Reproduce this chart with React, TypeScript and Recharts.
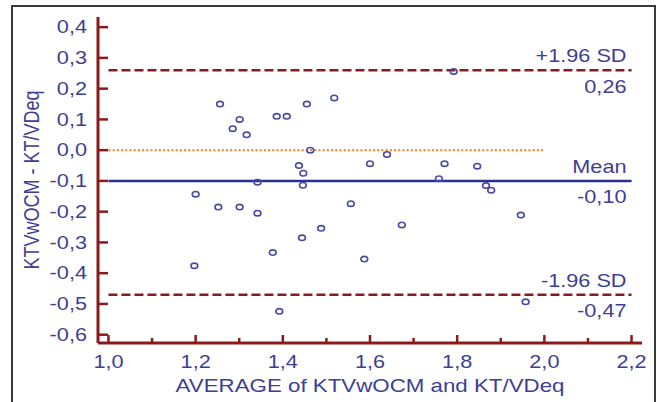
import { ScatterChart, Scatter, XAxis, YAxis, ReferenceLine } from "recharts";

// Bland-Altman: KTVwOCM vs KT/VDeq
const avgValues = [
  1.256, 1.301, 1.285, 1.317, 1.386, 1.409, 1.455, 1.518, 1.463, 1.437, 1.447, 1.446,
  1.342, 1.792, 1.6, 1.639, 1.771, 1.846, 1.758, 1.866, 1.878, 1.946, 1.2, 1.252,
  1.301, 1.342, 1.488, 1.444, 1.377, 1.197, 1.392, 1.556, 1.673, 1.587, 1.957,
];
const diffValues = [
  0.15, 0.1, 0.07, 0.05, 0.11, 0.11, 0.15, 0.17, 0.0, -0.05, -0.075, -0.114,
  -0.104, 0.256, -0.044, -0.014, -0.044, -0.052, -0.093, -0.115, -0.13, -0.211, -0.143, -0.185,
  -0.185, -0.205, -0.254, -0.285, -0.333, -0.376, -0.524, -0.174, -0.243, -0.354, -0.493,
];

const xTicks = [1.0, 1.1, 1.2, 1.3, 1.4, 1.5, 1.6, 1.7, 1.8, 1.9, 2.0, 2.1, 2.2];
const yTicks = [
  -0.6, -0.55, -0.5, -0.45, -0.4, -0.35, -0.3, -0.25, -0.2, -0.15, -0.1, -0.05,
  0.0, 0.05, 0.1, 0.15, 0.2, 0.25, 0.3, 0.35, 0.4,
];

const upperLimit = 0.26;
const meanDiff = -0.1;
const lowerLimit = -0.47;
const upperLabel = "+1.96 SD";
const meanLabel = "Mean";
const lowerLabel = "-1.96 SD";

const data = avgValues.map((x, i) => ({ x, y: diffValues[i] }));

const AXIS = "#8b1a1a";
const TEXT = "#3e3e94";
const FONT = "'Liberation Sans', Arial, sans-serif";
const STRETCH = 1.24;
const PLOT_LEFT = 98;
const PLOT_BOTTOM = 343;

const fmt = (v: number, d = 1) => v.toFixed(d).replace(".", ",");
// y: labelled every 0.1, x: labelled every 0.2
const yMajor = (v: number) => Math.round(Math.abs(v) * 100) % 10 === 0;
const xMajor = (v: number) => Math.round(v * 10) % 2 === 0;

function YTick(props: any) {
  const { y, payload } = props;
  const v = payload.value as number;
  const major = yMajor(v);
  return (
    <g>
      <line x1={PLOT_LEFT} x2={PLOT_LEFT + (major ? 10 : 6)} y1={y} y2={y} stroke={AXIS} strokeWidth={2.5} />
      {major && (
        <text
          transform={`translate(87, ${y}) scale(${STRETCH},1)`}
          textAnchor="end"
          dy="0.36em"
          fill={TEXT}
          fontSize={17.5}
          fontFamily={FONT}
        >
          {fmt(v)}
        </text>
      )}
    </g>
  );
}

function XTick(props: any) {
  const { x, payload } = props;
  const v = payload.value as number;
  const major = xMajor(v);
  return (
    <g>
      <line x1={x} x2={x} y1={PLOT_BOTTOM} y2={PLOT_BOTTOM - (major ? 8 : 5)} stroke={AXIS} strokeWidth={2.5} />
      {major && (
        <text
          transform={`translate(${x}, 368) scale(${STRETCH},1)`}
          textAnchor="middle"
          fill={TEXT}
          fontSize={17.5}
          fontFamily={FONT}
        >
          {fmt(v)}
        </text>
      )}
    </g>
  );
}

function lineLabel(top: string, bottom: string) {
  return (props: any) => {
    const vb = props.viewBox || {};
    const right = vb.x + vb.width - 5;
    const y = vb.y;
    return (
      <g>
        <text
          transform={`translate(${right}, ${y - 8}) scale(${STRETCH},1)`}
          textAnchor="end"
          fill={TEXT}
          fontSize={17.5}
          fontFamily={FONT}
        >
          {top}
        </text>
        <text
          transform={`translate(${right}, ${y + 22.5}) scale(${STRETCH},1)`}
          textAnchor="end"
          fill={TEXT}
          fontSize={17.5}
          fontFamily={FONT}
        >
          {bottom}
        </text>
      </g>
    );
  };
}

function Ring(props: any) {
  const { cx, cy } = props;
  return <ellipse cx={cx} cy={cy} rx={3.4} ry={2.7} fill="none" stroke="#4a4aa6" strokeWidth={1.6} />;
}

export default function App() {
  return (
    <div style={{ position: "absolute", left: 0, top: 0, width: 657, height: 402, overflow: "hidden", background: "#fff" }}>
      <div
        style={{
          position: "absolute",
          left: 11,
          top: 5,
          width: 645,
          height: 500,
          border: "2px solid #3a3a3a",
          boxSizing: "border-box",
        }}
      />
      <div style={{ position: "absolute", left: 0, top: 0 }}>
        <ScatterChart width={657} height={402} margin={{ top: 17, right: 15, bottom: 0, left: 0 }}>
          <XAxis
            type="number"
            dataKey="x"
            domain={[0.976, 2.224]}
            ticks={xTicks}
            allowDataOverflow
            height={59}
            axisLine={{ stroke: AXIS, strokeWidth: 3 }}
            tickLine={false}
            tick={(p: any) => <XTick {...p} />}
            label={(p: any) => {
              const vb = p.viewBox || {};
              const cx = vb.x + vb.width / 2;
              return (
                <text
                  transform={`translate(${cx}, 391.5) scale(${STRETCH},1)`}
                  textAnchor="middle"
                  fill={TEXT}
                  fontSize={18}
                  fontFamily={FONT}
                >
                  AVERAGE of KTVwOCM and KT/VDeq
                </text>
              );
            }}
          />
          <YAxis
            type="number"
            dataKey="y"
            domain={[-0.627, 0.433]}
            ticks={yTicks}
            allowDataOverflow
            width={98}
            axisLine={{ stroke: AXIS, strokeWidth: 3 }}
            tickLine={false}
            tick={(p: any) => <YTick {...p} />}
            label={() => (
              <text
                transform={`translate(39, 180) scale(${STRETCH},1) rotate(-90)`}
                textAnchor="middle"
                fill={TEXT}
                fontSize={18}
                fontFamily={FONT}
              >
                KTVwOCM - KT/VDeq
              </text>
            )}
          />
          <ReferenceLine
            segment={[{ x: 1.0, y: 0 }, { x: 2.0, y: 0 }]}
            stroke="#f47a20"
            strokeWidth={2}
            strokeDasharray="2 2.2"
          />
          <ReferenceLine
            segment={[{ x: 1.0, y: upperLimit }, { x: 2.2, y: upperLimit }]}
            stroke="#8b1a1a"
            strokeWidth={2.5}
            strokeDasharray="9 4"
            label={lineLabel(upperLabel, fmt(upperLimit, 2))}
          />
          <ReferenceLine
            segment={[{ x: 1.0, y: meanDiff }, { x: 2.2, y: meanDiff }]}
            stroke="#2b2f92"
            strokeWidth={2.5}
            label={lineLabel(meanLabel, fmt(meanDiff, 2))}
          />
          <ReferenceLine
            segment={[{ x: 1.0, y: lowerLimit }, { x: 2.2, y: lowerLimit }]}
            stroke="#8b1a1a"
            strokeWidth={2.5}
            strokeDasharray="9 4"
            label={lineLabel(lowerLabel, fmt(lowerLimit, 2))}
          />
          <Scatter data={data} isAnimationActive={false} shape={(p: any) => <Ring {...p} />} />
        </ScatterChart>
      </div>
    </div>
  );
}
